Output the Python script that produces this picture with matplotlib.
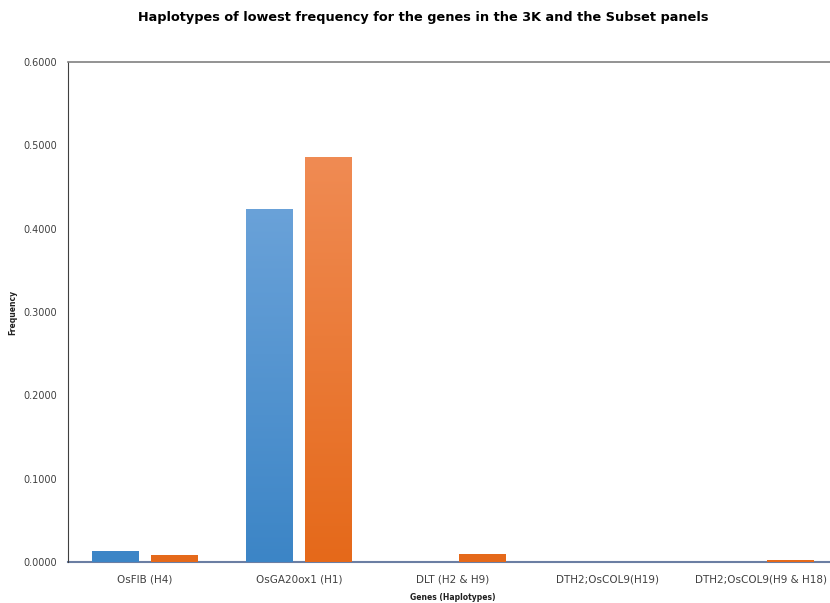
import matplotlib
matplotlib.use("Agg")
import matplotlib.pyplot as plt
import numpy as np
from matplotlib import font_manager as fm

names = {f.name for f in fm.fontManager.ttflist}
narrow = "Liberation Sans Narrow" if "Liberation Sans Narrow" in names else "DejaVu Sans"
plt.rcParams['font.family'] = [narrow, 'DejaVu Sans']

categories = ["OsFIB (H4)", "OsGA20ox1 (H1)", "DLT (H2 & H9)", "DTH2;OsCOL9(H19)", "DTH2;OsCOL9(H9 & H18)"]
panel_3k = [0.0136, 0.4236, 0.0, 0.0, 0.0]
panel_subset = [0.0080, 0.4860, 0.0100, 0.0, 0.0020]
yticks = [0.0, 0.1, 0.2, 0.3, 0.4, 0.5, 0.6]

W, H = 830, 603
fig = plt.figure(figsize=(W/100, H/100), dpi=100)
left, right, bottom, top = 68, 838, 562, 62
ax = fig.add_axes([left/W, 1-bottom/H, (right-left)/W, (bottom-top)/H])

x = np.arange(len(categories))
bw = 0.305
off = 0.19

def grad_bars(xs, vals, ctop, cbot):
    bars = ax.bar(xs, vals, bw, color='none', edgecolor='none', zorder=3)
    cmap = matplotlib.colors.LinearSegmentedColormap.from_list('g', [cbot, ctop])
    for b in bars:
        h = b.get_height()
        if h <= 0:
            continue
        x0 = b.get_x()
        if h < 0.005:
            ax.bar(b.get_x() + bw/2, h, bw, color=cbot, zorder=3, clip_on=False)
            continue
        grad = np.linspace(0, 1, 256).reshape(-1, 1)
        im = ax.imshow(grad, extent=[x0, x0+bw, 0, 0.5], origin='lower', aspect='auto',
                       cmap=cmap, zorder=3, interpolation='bilinear')
        im.set_clip_path(b)
    return bars

grad_bars(x-off, panel_3k, '#72a7dc', '#3c85c6')
grad_bars(x+off, panel_subset, '#f08c55', '#e5691a')

ax.set_xlim(-0.5, len(categories)-0.5)
ax.set_ylim(0, 0.6)
ax.set_yticks(yticks)
ax.set_yticklabels([f"{v:.4f}" for v in yticks], fontsize=7, color='#404040')
ax.set_xticks(x)
ax.set_xticklabels(categories, fontsize=7.5, color='#404040')
ax.tick_params(length=0, pad=8)
ax.tick_params(axis='x', pad=9)
for s in ['left', 'right']:
    ax.spines[s].set_color('#404040')
    ax.spines[s].set_linewidth(0.8)
ax.spines['top'].set_color('#808080')
ax.spines['top'].set_linewidth(1.2)
ax.spines['bottom'].set_color('#6b7ea3')
ax.spines['bottom'].set_linewidth(1.5)
ax.spines['bottom'].set_zorder(2)

fig.text(423/W, 1-18/H, "Haplotypes of lowest frequency for the genes in the 3K and the Subset panels",
         ha='center', va='center', fontsize=9.3, fontweight='bold', color='black')
fig.text(453/W, 1-597/H, "Genes (Haplotypes)", ha='center', va='center', fontsize=5.5, fontweight='bold', color='#202020')
fig.text(13/W, 1-312/H, "Frequency", ha='center', va='center', rotation=90, fontsize=5.5, fontweight='bold', color='#202020')

fig.savefig("out.png", dpi=100)
